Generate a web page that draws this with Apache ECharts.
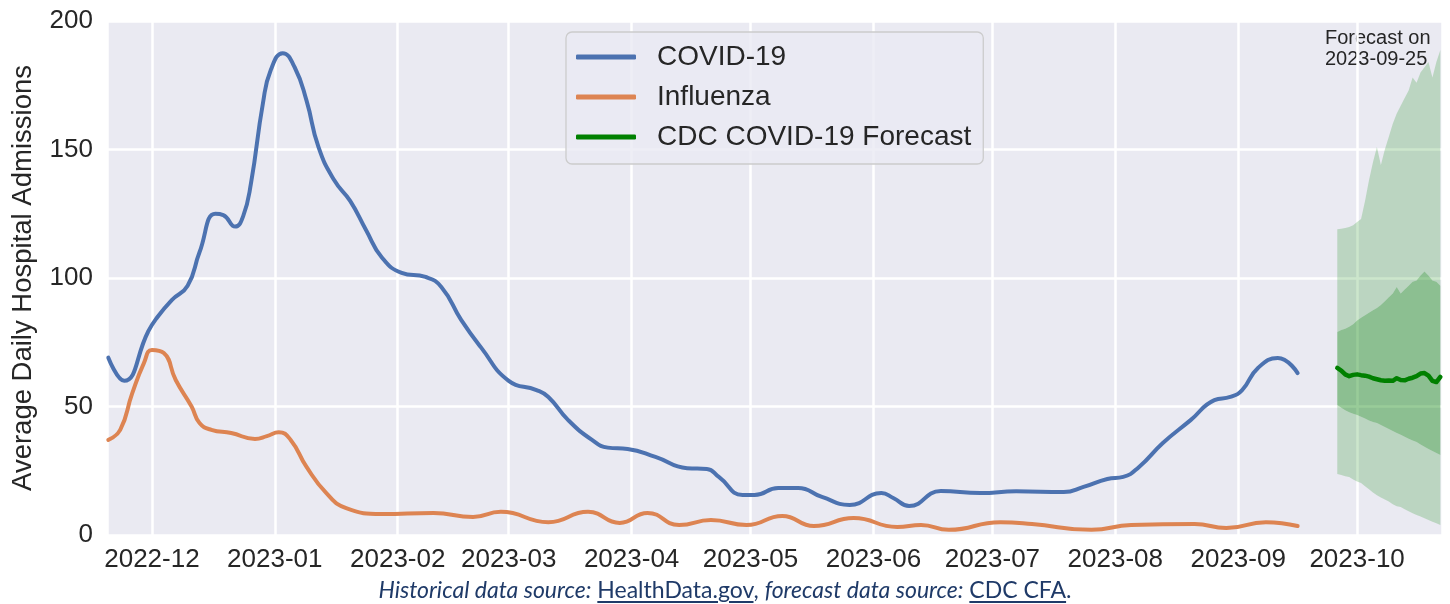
<!DOCTYPE html>
<html>
<head>
<meta charset="utf-8">
<title>Hospital admissions</title>
<script src="https://cdn.jsdelivr.net/npm/echarts@6/dist/echarts.min.js"></script>
<style>
    html, body { margin: 0; padding: 0; background: #fff; }
    #wrap { position: relative; width: 1450px; height: 604px; }
    #chart { width: 1450px; height: 604px; }
    .caption {
        position: absolute; left: 0; top: 575px; width: 1450px;
        text-align: center; font-family: Lato, 'Noto Sans', sans-serif;
        font-size: 23px; color: #1f3a68;
    }
    .caption i { font-style: italic; }
    .caption u { text-underline-offset: 3px; }
</style>
</head>
<body>
<div id="wrap">
    <div id="chart"></div>
    <!-- 数据来源 -->
    <div class="caption"><i>Historical data source:</i> <u>HealthData.gov</u>, <i>forecast data source:</i> <u>CDC CFA</u>.</div>
</div>
<script>
// COVID-19 (7-day avg)
var covidDates = ['2022-11-20','2022-11-24','2022-11-30','2022-12-02','2022-12-06','2022-12-10','2022-12-13','2022-12-17','2022-12-19','2022-12-22','2022-12-24','2022-12-26','2022-12-29','2022-12-31','2023-01-03','2023-01-06','2023-01-09','2023-01-12','2023-01-16','2023-01-20','2023-01-24','2023-01-28','2023-02-02','2023-02-08','2023-02-12','2023-02-17','2023-02-22','2023-03-01','2023-03-08','2023-03-11','2023-03-16','2023-03-22','2023-03-26','2023-03-31','2023-04-07','2023-04-15','2023-04-20','2023-04-23','2023-04-29','2023-05-02','2023-05-08','2023-05-13','2023-05-19','2023-05-26','2023-06-03','2023-06-06','2023-06-10','2023-06-18','2023-06-28','2023-07-07','2023-07-19','2023-07-24','2023-07-30','2023-08-03','2023-08-07','2023-08-13','2023-08-20','2023-08-26','2023-08-30','2023-09-02','2023-09-06','2023-09-11','2023-09-16'];
var covidValues = [69,60,79,84,91.4,97,110,125,124.5,120,124,137,168,181,187.5,182,169,151,138,130,118.7,108,102,100.4,96.5,83.7,73,60,56.4,53.7,44.7,37,34,33.5,30.4,26,25.7,22.6,15.6,15.6,18.3,18.3,14.8,11.7,16.3,14.4,11.3,17.1,16.3,17,16.7,18.7,21.8,22.6,26.5,35.8,44.7,52.5,53.7,56.4,65,68.9,63];

// Influenza
var fluDates = ['2022-11-20','2022-11-23','2022-11-26','2022-11-29','2022-12-01','2022-12-04','2022-12-07','2022-12-11','2022-12-13','2022-12-16','2022-12-21','2022-12-27','2022-12-30','2023-01-02','2023-01-05','2023-01-09','2023-01-14','2023-01-19','2023-01-28','2023-02-10','2023-02-20','2023-02-27','2023-03-11','2023-03-21','2023-03-29','2023-04-05','2023-04-13','2023-04-21','2023-04-30','2023-05-09','2023-05-17','2023-05-27','2023-06-07','2023-06-13','2023-06-20','2023-07-03','2023-07-11','2023-07-26','2023-08-05','2023-08-21','2023-08-29','2023-09-08','2023-09-16'];
var fluValues = [37,40.9,55,67,72,70.8,60.3,50,43.6,40.9,39.7,37.4,38.5,40,37,26.5,16.3,10.5,8.2,8.6,7,9,5,9,4.7,8.6,3.9,5.8,3.9,7.4,3.5,6.6,3.1,3.9,2,5,4.3,2,3.9,4.3,2.7,5,3.5];

// CDC forecast, made 2023-09-25
var forecastDates = ['2023-09-26','2023-09-27','2023-09-28','2023-09-29','2023-09-30','2023-10-01','2023-10-02','2023-10-03','2023-10-04','2023-10-05','2023-10-06','2023-10-07','2023-10-08','2023-10-09','2023-10-10','2023-10-11','2023-10-12','2023-10-13','2023-10-14','2023-10-15','2023-10-16','2023-10-17','2023-10-18','2023-10-19','2023-10-20','2023-10-21','2023-10-22'];
var forecastMedian = [65,64,62.5,61.8,62.3,62.5,62.2,62,61.6,61,60.6,60.2,60,60.1,60,61,60.3,60.2,60.8,61.2,61.8,62.8,63,62,60,59.5,61.5];
var forecastLow95 = [23.7,23.3,22.9,22.6,21.6,20.8,20.2,19,17.8,16.5,15.5,14.6,13.8,13,12,11.2,10.9,10,9.2,8.5,7.8,7.2,6.5,5.8,5.2,4.6,3.9];
var forecastLow50 = [50.6,49.5,48.5,47.8,47.2,46.7,46,45.3,44.6,44,43.6,42.8,42,41.2,40.5,39.7,39,38.2,37.5,36.8,36.2,35.2,34.3,33.5,32.7,31.9,31.1];
var forecastHigh50 = [79,79.8,80.3,81,82,83.5,84.5,85.5,86.5,87.5,88.3,89.5,91,92.5,94,96.5,94,95.5,97,98.5,99,101,102.5,101,99,98.5,97];
var forecastHigh95 = [119,119.2,119.5,119.8,120.5,121.8,123,130,138,145,151,144,150,155,160,164,167,170,173,178,176,180,182,184,178,184,188.7];

var yTicks = [0, 50, 100, 150, 200];

function pairs(xs, ys) {
    return xs.map(function (d, i) { return [d, ys[i]]; });
}
// 分位数带: 堆叠差值
function diff(a, b) {
    return a.map(function (v, i) { return +(v - b[i]).toFixed(2); });
}

var font = "'Liberation Sans', Arial, sans-serif";
var myChart = echarts.init(document.getElementById('chart'));

function band(name, values, color) {
    return {
        name: name,
        type: 'line',
        stack: 'forecast',
        data: pairs(forecastDates, values),
        symbol: 'none',
        lineStyle: { width: 0, opacity: 0 },
        areaStyle: color ? { color: color, opacity: 1 } : undefined,
        silent: true,
        z: 1
    };
}

var option = {
    backgroundColor: '#ffffff',
    animation: false,
    grid: {
        left: 107, right: 8, top: 21, bottom: 69,
        show: true, backgroundColor: '#EAEAF2', borderWidth: 0
    },
    legend: {
        data: ['COVID-19', 'Influenza', 'CDC COVID-19 Forecast'],
        orient: 'vertical',
        left: 566, top: 32,
        padding: [11, 12, 13, 10],
        itemGap: 12,
        itemWidth: 60, itemHeight: 5,
        icon: 'roundRect',
        backgroundColor: 'rgba(234,234,242,0.8)',
        borderColor: '#cccccc', borderWidth: 1.3, borderRadius: 6,
        textStyle: { fontFamily: font, fontSize: 28, lineHeight: 28, color: '#262626', padding: [0, 0, 0, 16] }
    },
    xAxis: {
        type: 'time',
        min: '2022-11-19 16:00',
        max: '2023-10-22 10:00',
        splitNumber: 11,
        minInterval: 28 * 86400000,
        maxInterval: 31 * 86400000,
        axisLine: { show: false },
        axisTick: { show: false },
        axisLabel: {
            formatter: '{yyyy}-{MM}',
            fontFamily: font, fontSize: 26, color: '#262626', margin: 12
        },
        splitLine: { show: true, lineStyle: { color: '#ffffff', width: 2.5 } }
    },
    yAxis: {
        type: 'value',
        min: yTicks[0], max: yTicks[yTicks.length - 1], interval: 50,
        name: 'Average Daily Hospital Admissions',
        nameLocation: 'middle',
        nameGap: 70,
        nameTextStyle: { fontFamily: font, fontSize: 27.5, color: '#262626' },
        axisLine: { show: false },
        axisTick: { show: false },
        axisLabel: { fontFamily: font, fontSize: 26, color: '#262626', margin: 14 },
        splitLine: { lineStyle: { color: '#ffffff', width: 2.5 } }
    },
    graphic: [{
        type: 'text',
        left: 1325, top: 28,
        style: {
            text: 'Forecast on\n2023-09-25',
            font: '20px ' + font,
            fill: '#262626',
            lineHeight: 21
        }
    }],
    series: [
        {
            name: 'COVID-19',
            type: 'line',
            data: pairs(covidDates, covidValues),
            smooth: 0.5,
            symbol: 'none',
            color: '#4C72B0',
            lineStyle: { color: '#4C72B0', width: 4, cap: 'round' },
            z: 3
        },
        {
            name: 'Influenza',
            type: 'line',
            data: pairs(fluDates, fluValues),
            smooth: 0.5,
            symbol: 'none',
            color: '#DD8452',
            lineStyle: { color: '#DD8452', width: 4, cap: 'round' },
            z: 3
        },
        band('q025', forecastLow95, null),
        band('q025-q25', diff(forecastLow50, forecastLow95), 'rgba(0,128,0,0.2)'),
        band('q25-q75', diff(forecastHigh50, forecastLow50), 'rgba(0,128,0,0.4)'),
        band('q75-q975', diff(forecastHigh95, forecastHigh50), 'rgba(0,128,0,0.2)'),
        {
            name: 'CDC COVID-19 Forecast',
            type: 'line',
            data: pairs(forecastDates, forecastMedian),
            symbol: 'none',
            color: '#008000',
            lineStyle: { color: '#008000', width: 4.5, cap: 'round', join: 'round' },
            z: 4
        }
    ]
};

myChart.setOption(option);
</script>
</body>
</html>
